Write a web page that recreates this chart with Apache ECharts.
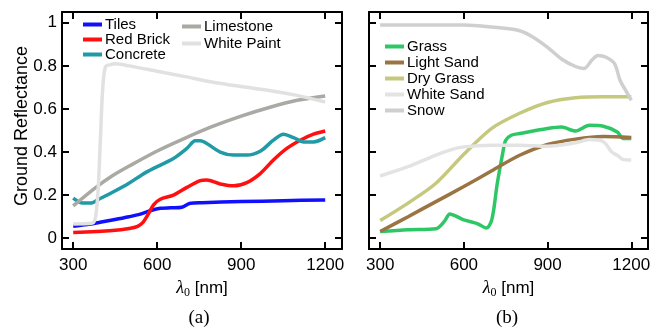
<!DOCTYPE html>
<html>
<head>
<meta charset="utf-8">
<script src="https://cdn.jsdelivr.net/npm/echarts@6/dist/echarts.min.js"></script>
<style>
  html, body { margin: 0; padding: 0; background: #fff; }
  #main { width: 654px; height: 328px; }
</style>
</head>
<body>
<div id="main"></div>
<script>
// wavelength [nm], reflectance pairs
const tiles = [[300,0.055],[340,0.062],[370,0.067],[440,0.085],[500,0.10],[540,0.112],[580,0.13],[611,0.139],[650,0.141],[688,0.144],[718,0.162],[760,0.165],[900,0.17],[1050,0.174],[1200,0.178]];
const redBrick = [[300,0.027],[440,0.036],[500,0.045],[530,0.055],[550,0.075],[565,0.105],[587,0.155],[611,0.181],[658,0.20],[706,0.236],[754,0.267],[777,0.27],[825,0.252],[873,0.243],[920,0.258],[968,0.30],[1015,0.363],[1063,0.417],[1111,0.455],[1158,0.483],[1200,0.498]];
const concrete = [[300,0.186],[334,0.163],[362,0.163],[391,0.181],[439,0.212],[499,0.255],[546,0.295],[587,0.324],[658,0.37],[706,0.417],[736,0.452],[754,0.452],[777,0.44],[825,0.40],[873,0.386],[920,0.386],[968,0.404],[1015,0.455],[1051,0.483],[1087,0.467],[1123,0.447],[1158,0.447],[1200,0.467]];
const limestone = [[300,0.15],[380,0.235],[440,0.29],[500,0.335],[600,0.405],[700,0.465],[800,0.52],[900,0.567],[1000,0.607],[1100,0.64],[1200,0.66]];
const whitePaint = [[300,0.066],[368,0.07],[380,0.10],[389,0.224],[397,0.455],[405,0.686],[415,0.795],[433,0.806],[450,0.81],[500,0.80],[600,0.775],[700,0.75],[800,0.724],[900,0.704],[1000,0.686],[1100,0.663],[1150,0.648],[1200,0.632]];

const grass = [[300,0.031],[400,0.039],[500,0.044],[530,0.078],[550,0.113],[570,0.104],[600,0.085],[650,0.067],[680,0.047],[700,0.085],[720,0.256],[740,0.40],[750,0.455],[770,0.478],[800,0.486],[900,0.509],[950,0.516],[1000,0.498],[1050,0.524],[1100,0.52],[1150,0.493],[1170,0.463],[1200,0.463]];
const lightSand = [[300,0.031],[400,0.10],[500,0.17],[600,0.24],[700,0.313],[800,0.385],[900,0.435],[1000,0.46],[1100,0.472],[1200,0.467]];
const dryGrass = [[300,0.082],[400,0.163],[500,0.255],[600,0.39],[700,0.51],[800,0.58],[900,0.63],[1000,0.652],[1100,0.657],[1200,0.657]];
const whiteSand = [[300,0.289],[400,0.332],[500,0.386],[550,0.409],[600,0.424],[700,0.432],[800,0.432],[900,0.427],[1000,0.443],[1050,0.458],[1100,0.448],[1130,0.40],[1150,0.385],[1170,0.366],[1200,0.363]];
const snow = [[300,0.99],[600,0.99],[700,0.98],[800,0.963],[850,0.932],[900,0.886],[950,0.832],[1000,0.797],[1030,0.788],[1060,0.828],[1080,0.848],[1110,0.84],[1140,0.81],[1160,0.732],[1180,0.686],[1200,0.64]];

const xTicks = [300, 600, 900, 1200];
const yTicks = [0, 0.2, 0.4, 0.6, 0.8, 1];

const sans = 'Liberation Sans, Arial, sans-serif';
const serif = 'Liberation Serif, Times New Roman, serif';

function xAxis(grid, top) {
    return {
        type: 'value', gridIndex: grid, position: top ? 'top' : 'bottom',
        min: 260, max: 1260,
        splitLine: {show: false},
        axisLine: {onZero: false, lineStyle: {color: '#000', width: 2}},
        axisTick: {inside: true, length: 7, lineStyle: {width: 2, color: '#000'}, customValues: xTicks},
        axisLabel: {show: !top, customValues: xTicks, formatter: v => String(v),
                    color: '#000', fontSize: 17, fontFamily: sans, margin: 8},
        name: top ? '' : '{l|λ}{s|0}{n| [nm]}',
        nameLocation: 'middle', nameGap: 28,
        nameTextStyle: {
            rich: {
                l: {fontFamily: serif, fontStyle: 'italic', fontSize: 18, color: '#000'},
                s: {fontFamily: serif, fontSize: 12, color: '#000', padding: [10, 0, 0, 0]},
                n: {fontFamily: sans, fontSize: 17, color: '#000'}
            }
        }
    };
}

function yAxis(grid, right, labels) {
    return {
        type: 'value', gridIndex: grid, position: right ? 'right' : 'left',
        min: -0.05, max: 1.05,
        splitLine: {show: false},
        axisLine: {onZero: false, lineStyle: {color: '#000', width: 2}},
        axisTick: {inside: true, length: 7, lineStyle: {width: 2, color: '#000'}, customValues: yTicks},
        axisLabel: {show: labels, customValues: yTicks, color: '#000', fontSize: 17, fontFamily: sans, margin: 5}
    };
}

function line(name, data, color, xi, yi) {
    return {
        name: name, type: 'line', data: data, xAxisIndex: xi, yAxisIndex: yi,
        showSymbol: false, smooth: 0.3,
        lineStyle: {color: color, width: 3.5}, itemStyle: {color: color},
        emphasis: {disabled: true}
    };
}

function legend(names, left, top, gap) {
    return {
        data: names, orient: 'vertical', left: left, top: top, padding: 0,
        icon: 'rect', itemWidth: 19, itemHeight: 4, itemGap: gap,
        textStyle: {fontSize: 15, fontFamily: sans, color: '#000', lineHeight: 15, padding: [0, 0, 0, -2]}
    };
}

var myChart = echarts.init(document.getElementById('main'));
myChart.setOption({
    animation: false,
    grid: [
        {left: 62, top: 12, width: 280, height: 237},
        {left: 369, top: 12, width: 279, height: 237}
    ],
    xAxis: [xAxis(0, false), xAxis(0, true), xAxis(1, false), xAxis(1, true)],
    yAxis: [yAxis(0, false, true), yAxis(0, true, false), yAxis(1, false, false), yAxis(1, true, false)],
    legend: [
        legend(['Tiles', 'Red Brick', 'Concrete'], 83, 17, 0),
        legend(['Limestone', 'White Paint'], 182, 19, 2),
        legend(['Grass', 'Light Sand', 'Dry Grass', 'White Sand', 'Snow'], 385, 39, 1)
    ],
    graphic: [
        {type: 'text', x: 22, y: 126, rotation: Math.PI / 2,
         style: {text: 'Ground Reflectance', fontSize: 18, fontFamily: sans, fill: '#000', align: 'center', verticalAlign: 'middle'}},
        {type: 'text', x: 199, y: 318,
         style: {text: '(a)', fontSize: 19, fontFamily: serif, fill: '#000', align: 'center', verticalAlign: 'middle'}},
        {type: 'text', x: 507, y: 318,
         style: {text: '(b)', fontSize: 19, fontFamily: serif, fill: '#000', align: 'center', verticalAlign: 'middle'}}
    ],
    series: [
        line('Tiles', tiles, '#1010ff', 0, 0),
        line('Red Brick', redBrick, '#ff1010', 0, 0),
        line('Concrete', concrete, '#1f9aa6', 0, 0),
        line('Limestone', limestone, '#aaa9a3', 0, 0),
        line('White Paint', whitePaint, '#e1e1e1', 0, 0),
        line('Grass', grass, '#2ec766', 2, 2),
        line('Light Sand', lightSand, '#9b7444', 2, 2),
        line('Dry Grass', dryGrass, '#c5c97e', 2, 2),
        line('White Sand', whiteSand, '#e3e3e3', 2, 2),
        line('Snow', snow, '#cfcfcf', 2, 2)
    ]
});
</script>
</body>
</html>
